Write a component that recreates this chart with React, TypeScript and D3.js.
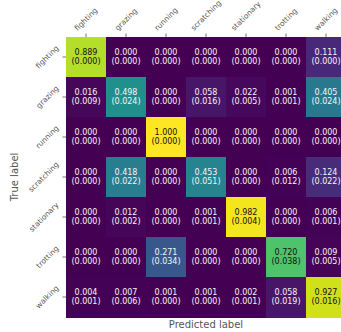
import React from "react";
import * as d3 from "d3";

const classes = ["fighting", "grazing", "running", "scratching", "stationary", "trotting", "walking"];
const meanValues = [
  [0.889, 0.0, 0.0, 0.0, 0.0, 0.0, 0.111],
  [0.016, 0.498, 0.0, 0.058, 0.022, 0.001, 0.405],
  [0.0, 0.0, 1.0, 0.0, 0.0, 0.0, 0.0],
  [0.0, 0.418, 0.0, 0.453, 0.0, 0.006, 0.124],
  [0.0, 0.012, 0.0, 0.001, 0.982, 0.0, 0.006],
  [0.0, 0.0, 0.271, 0.0, 0.0, 0.72, 0.009],
  [0.004, 0.007, 0.001, 0.001, 0.002, 0.058, 0.927],
];
const stdValues = [
  [0.0, 0.0, 0.0, 0.0, 0.0, 0.0, 0.0],
  [0.009, 0.024, 0.0, 0.016, 0.005, 0.001, 0.024],
  [0.0, 0.0, 0.0, 0.0, 0.0, 0.0, 0.0],
  [0.0, 0.022, 0.0, 0.051, 0.0, 0.012, 0.022],
  [0.0, 0.002, 0.0, 0.001, 0.004, 0.0, 0.001],
  [0.0, 0.0, 0.034, 0.0, 0.0, 0.038, 0.005],
  [0.001, 0.006, 0.0, 0.0, 0.001, 0.019, 0.016],
];
const xAxisTitle = "Predicted label";
const yAxisTitle = "True label";

const W = 341;
const H = 332;
const left = 66;
const top = 37;
const cell = 40;
const n = classes.length;
const font = "DejaVu Sans, sans-serif";
const tickFont = 7.5;
const labelColor = "#555";

function measure(text: string, size: number): number {
  try {
    const c = document.createElement("canvas");
    const ctx = c.getContext("2d");
    if (ctx) {
      ctx.font = `${size}px DejaVu Sans`;
      return ctx.measureText(text).width;
    }
  } catch (e) {}
  return text.length * size * 0.6;
}

export default function App() {
  const x = d3.scaleBand<string>().domain(classes).range([left, left + n * cell]);
  const y = d3.scaleBand<string>().domain(classes).range([top, top + n * cell]);
  const color = d3.scaleSequential(d3.interpolateViridis).domain([0, 1]);
  const fmt = d3.format(".3f");
  const h = tickFont * 1.0;
  const s = Math.SQRT1_2;

  return (
    <svg
      width={W}
      height={H}
      style={{ position: "absolute", left: 0, top: 0, overflow: "hidden", background: "#fff" }}
    >
      <g shapeRendering="crispEdges">
        {meanValues.map((row, i) =>
          row.map((v, j) => (
            <rect
              key={`c${i}-${j}`}
              x={x(classes[j])}
              y={y(classes[i])}
              width={x.bandwidth() + 0.5}
              height={y.bandwidth() + 0.5}
              fill={color(v)}
            />
          ))
        )}
      </g>
      {meanValues.map((row, i) =>
        row.map((v, j) => {
          const cx = (x(classes[j]) as number) + x.bandwidth() / 2;
          const cy = (y(classes[i]) as number) + y.bandwidth() / 2;
          const fill = v > 0.5 ? "#111" : "#f5f5f5";
          return (
            <g key={`t${i}-${j}`} fontFamily={font} fontSize={8} fill={fill} textAnchor="middle">
              <text x={cx} y={cy - 4.8} dominantBaseline="central">{fmt(v)}</text>
              <text x={cx} y={cy + 4.9} dominantBaseline="central">({fmt(stdValues[i][j])})</text>
            </g>
          );
        })
      )}
      {classes.map((c) => {
        const cx = (x(c) as number) + x.bandwidth() / 2;
        const L = measure(c, tickFont);
        const bh = (L + h) * s;
        const cy = top - 3.5 - 1.5 - bh / 2;
        return (
          <g key={`xt${c}`}>
            <line x1={cx} x2={cx} y1={top} y2={top - 3.5} stroke="#555" strokeWidth={0.8} />
            <text
              x={0}
              y={0}
              transform={`translate(${cx},${cy}) rotate(-45)`}
              textAnchor="middle"
              dominantBaseline="central"
              fontFamily={font}
              fontSize={tickFont}
              fill={labelColor}
            >
              {c}
            </text>
          </g>
        );
      })}
      {classes.map((c) => {
        const cy = (y(c) as number) + y.bandwidth() / 2;
        const L = measure(c, tickFont);
        const bw = (L + h) * s;
        const cx = left - 3.5 - 2.5 - bw / 2;
        return (
          <g key={`yt${c}`}>
            <line x1={left} x2={left - 3.5} y1={cy} y2={cy} stroke="#555" strokeWidth={0.8} />
            <text
              x={0}
              y={0}
              transform={`translate(${cx},${cy}) rotate(-45)`}
              textAnchor="middle"
              dominantBaseline="central"
              fontFamily={font}
              fontSize={tickFont}
              fill={labelColor}
            >
              {c}
            </text>
          </g>
        );
      })}
      <text
        x={left + (n * cell) / 2}
        y={324}
        textAnchor="middle"
        dominantBaseline="central"
        fontFamily={font}
        fontSize={10}
        fill={labelColor}
      >
        {xAxisTitle}
      </text>
      <text
        transform={`translate(14,${top + (n * cell) / 2}) rotate(-90)`}
        textAnchor="middle"
        dominantBaseline="central"
        fontFamily={font}
        fontSize={10}
        fill={labelColor}
      >
        {yAxisTitle}
      </text>
    </svg>
  );
}
